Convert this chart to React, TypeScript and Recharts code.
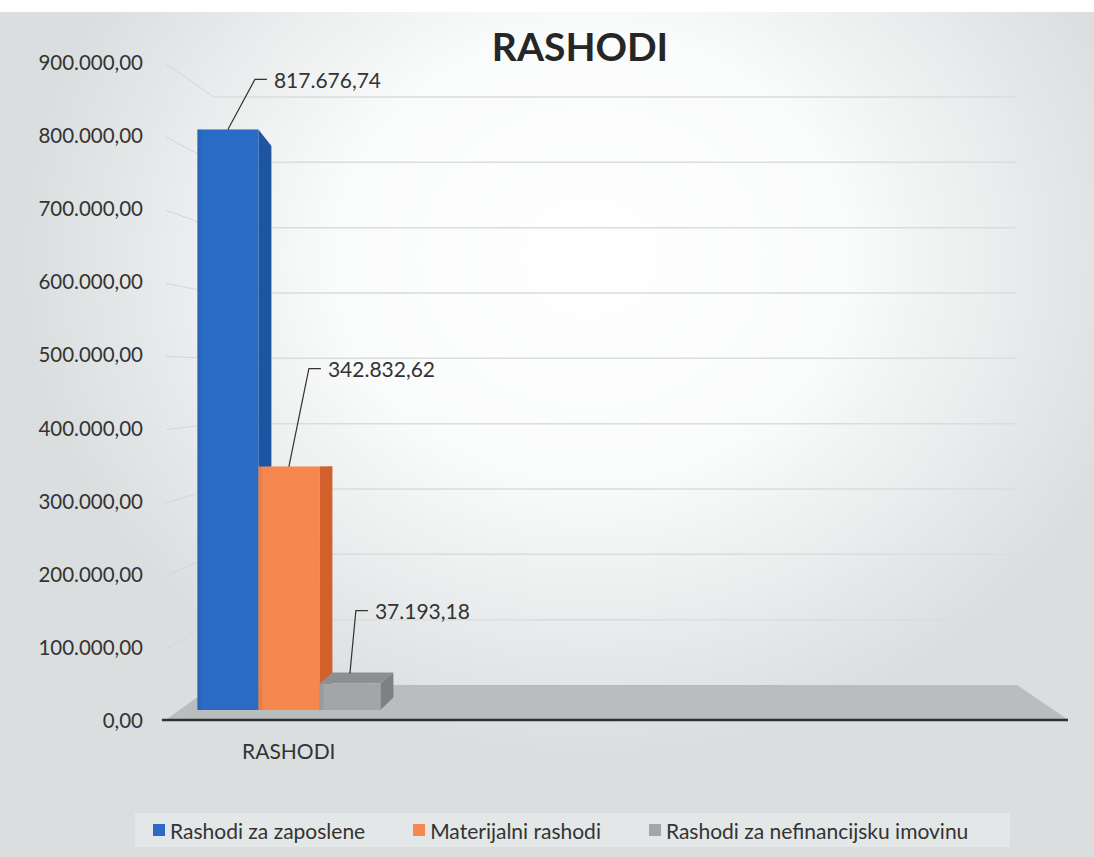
import React from 'react'
import { BarChart, Bar, XAxis, YAxis, CartesianGrid, LabelList } from 'recharts'

const categories = ['RASHODI', '', '', '']
const zaposlene = [817676.74, null, null, null]
const materijalni = [342832.62, null, null, null]
const nefinancijska = [37193.18, null, null, null]
const yTicks = [0, 100000, 200000, 300000, 400000, 500000, 600000, 700000, 800000, 900000]
const seriesNames = ['Rashodi za zaposlene', 'Materijalni rashodi', 'Rashodi za nefinancijsku imovinu']

const data = categories.map((cat, i) => ({
  cat,
  zap: zaposlene[i],
  mat: materijalni[i],
  nef: nefinancijska[i],
}))

const FONT = 'Lato, "Open Sans", sans-serif'
const TEXT = '#333333'

// plot geometry (front plane) and the perspective walls behind it
const TOP = 71
const ZERO = 710
const SPAN = ZERO - TOP

const styles = [
  { front: '#2a6bc6', side: '#1d55a3', top: '#3d7fd6', lift: 50, lean: 27 },
  { front: '#f5874f', side: '#d2602b', top: '#f8a070', lift: 98, lean: 20 },
  { front: '#a3a5a6', side: '#7e8081', top: '#8d8f90', lift: 73, lean: 6 },
]

function fmt(v: number) {
  const [int, dec] = v.toFixed(2).split('.')
  return int.replace(/\B(?=(\d{3})+(?!\d))/g, '.') + ',' + dec
}

function Bar3D(props: any) {
  const { x, y, width: w, height: h, idx } = props
  if (h == null || h <= 0) return null
  const st = styles[idx]
  const dx = 13
  const s = (yy: number) => (460 - yy) * 0.05
  const tb = y + s(y)
  const bb = y + h + s(y + h)
  return (
    <g>
      {tb < y && (
        <polygon points={`${x},${y} ${x + dx},${tb} ${x + w + dx},${tb} ${x + w},${y}`} fill={st.top} />
      )}
      <polygon points={`${x + w},${y} ${x + w + dx},${tb} ${x + w + dx},${bb} ${x + w},${y + h}`} fill={st.side} />
      <rect x={x} y={y} width={w} height={h} fill={st.front} />
      <rect x={x} y={y} width={4} height={h} fill="rgba(0,0,0,0.06)" />
    </g>
  )
}

function Leader(props: any) {
  const { x, y, width, value, idx } = props
  if (value == null) return null
  const st = styles[idx]
  const sx = x + width / 2
  const sy = y - (idx === 2 ? 10 : 0)
  const ex = sx + st.lean
  const ey = y - st.lift
  return (
    <g>
      <polyline points={`${sx},${sy} ${ex},${ey} ${ex + 12},${ey}`} fill="none" stroke="#333" strokeWidth={1.2} />
      <text x={ex + 19} y={ey} dominantBaseline="central" fontFamily={FONT} fontSize={21} fill={TEXT}>
        {fmt(value)}
      </text>
    </g>
  )
}

function GridLine(props: any) {
  const { x1, x2, y1 } = props
  const frac = (ZERO - y1) / SPAN
  const fy = 720 - frac * 658
  const by = 685 - frac * 588
  const zy = y1 + frac * SPAN
  return (
    <g>
      {frac > 0.99 && (
        <g>
          <polygon
            points={`${x1 - 13},${zy + 9} ${x1 + 34},${zy - 25} ${x2 - 33},${zy - 25} ${x2 + 17},${zy + 9}`}
            fill="#b9bdbe"
          />
          <line x1={x1 - 18} y1={zy + 10} x2={x2 + 18} y2={zy + 10} stroke="#2e3233" strokeWidth={2.5} />
        </g>
      )}
      {frac > 0.01 && (
        <g>
          <line x1={x1 - 14} y1={fy + 2} x2={x1 + 34} y2={by} stroke="#d2d6d7" strokeWidth={1} />
          <line x1={x1 + 34} y1={by} x2={x2 - 33} y2={by} stroke="#dadddd" strokeWidth={1.5} />
        </g>
      )}
    </g>
  )
}

function YTick(props: any) {
  const { x, y, payload } = props
  const frac = (ZERO - y) / SPAN
  const ly = 720 - frac * 658
  return (
    <text x={x - 37} y={ly} textAnchor="end" dominantBaseline="central" fontFamily={FONT} fontSize={20.5} fill={TEXT}>
      {fmt(payload.value)}
    </text>
  )
}

function XTick(props: any) {
  const { x, payload } = props
  if (!payload.value) return null
  return (
    <text x={x} y={750} textAnchor="middle" dominantBaseline="central" fontFamily={FONT} fontSize={21} fill={TEXT}>
      {payload.value}
    </text>
  )
}

function LegendBox() {
  return (
    <div
      style={{
        position: 'absolute',
        left: 135,
        top: 813,
        width: 875,
        boxSizing: 'border-box',
        display: 'flex',
        alignItems: 'center',
        gap: 48,
        padding: '0 18px',
        background: '#e4e7e7',
        fontFamily: FONT,
        fontSize: 21,
        color: TEXT,
        height: 34,
      }}
    >
      {seriesNames.map((n, i) => (
        <span key={n} style={{ display: 'flex', alignItems: 'center' }}>
          <span style={{ width: 12, height: 12, background: styles[i].front, marginRight: 5, display: 'inline-block' }} />
          {n}
        </span>
      ))}
    </div>
  )
}

export default function App() {
  const keys = ['zap', 'mat', 'nef']
  return (
    <div
      style={{
        position: 'absolute',
        left: 0,
        top: 0,
        width: 1094,
        height: 857,
        background:
          'linear-gradient(to bottom, #ffffff 0px, #ffffff 12px, rgba(255,255,255,0) 12px), radial-gradient(ellipse 52% 58% at 54% 30%, #ffffff 0%, #fafbfb 45%, #dadedf 100%)',
      }}
    >
      <div
        style={{
          position: 'absolute',
          left: 380,
          width: 400,
          top: 22,
          textAlign: 'center',
          fontFamily: FONT,
          fontWeight: 700,
          fontSize: 39,
          lineHeight: '48px',
          color: '#262626',
        }}
      >
        RASHODI
      </div>
      <BarChart
        width={1094}
        height={857}
        data={data}
        margin={{ top: TOP, right: 44, bottom: 857 - ZERO - 40, left: 0 }}
        barGap={0}
        barCategoryGap="8%"
      >
        <CartesianGrid horizontal={(p: any) => <GridLine key={p.key} {...p} />} vertical={false} />
        <XAxis dataKey="cat" height={40} axisLine={false} tickLine={false} tick={<XTick />} />
        <YAxis
          width={180}
          domain={[0, 900000]}
          ticks={yTicks}
          axisLine={false}
          tickLine={false}
          tickSize={0}
          tickMargin={0}
          tick={<YTick />}
        />
        {keys.map((k, i) => (
          <Bar
            key={k}
            dataKey={k}
            name={seriesNames[i]}
            fill={styles[i].front}
            isAnimationActive={false}
            shape={(p: any) => <Bar3D {...p} idx={i} />}
          >
            <LabelList dataKey={k} content={(p: any) => <Leader {...p} idx={i} />} />
          </Bar>
        ))}
      </BarChart>
      <LegendBox />
    </div>
  )
}
